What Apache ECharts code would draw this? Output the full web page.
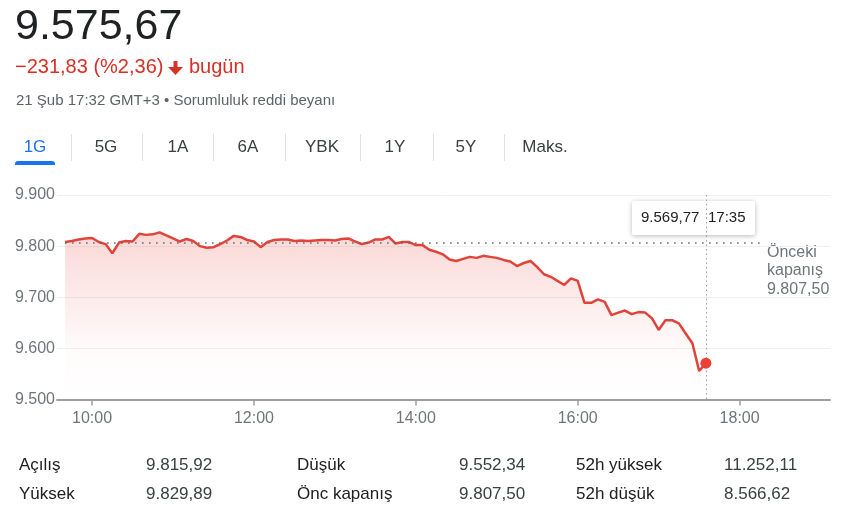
<!DOCTYPE html>
<html>
<head>
    <meta charset="utf-8" />
    <title>9.575,67 - 1G</title>
    <script src="https://cdn.jsdelivr.net/npm/echarts@6/dist/echarts.min.js"></script>
    <style>
        html, body { margin: 0; padding: 0; background: #ffffff; }
        #main { width: 855px; height: 521px; }
    </style>
</head>
<body>
<div id="main"></div>
<script type="text/javascript">
    // saat (5 dk aralık) ve endeks değerleri
    var times = [
        '09:40','09:45','09:50','09:55','10:00','10:05','10:10','10:15','10:20','10:25','10:30','10:35',
        '10:40','10:45','10:50','10:55','11:00','11:05','11:10','11:15','11:20','11:25','11:30','11:35',
        '11:40','11:45','11:50','11:55','12:00','12:05','12:10','12:15','12:20','12:25','12:30','12:35',
        '12:40','12:45','12:50','12:55','13:00','13:05','13:10','13:15','13:20','13:25','13:30','13:35',
        '13:40','13:45','13:50','13:55','14:00','14:05','14:10','14:15','14:20','14:25','14:30','14:35',
        '14:40','14:45','14:50','14:55','15:00','15:05','15:10','15:15','15:20','15:25','15:30','15:35',
        '15:40','15:45','15:50','15:55','16:00','16:05','16:10','16:15','16:20','16:25','16:30','16:35',
        '16:40','16:45','16:50','16:55','17:00','17:05','17:10','17:15','17:20','17:25','17:30','17:35'
    ];
    var values = [
        9808, 9810, 9813, 9815, 9816, 9808, 9804, 9786, 9807, 9810, 9809, 9824,
        9822, 9823, 9827, 9821, 9815, 9809, 9814, 9810, 9800, 9797, 9798, 9804,
        9811, 9820, 9818, 9812, 9809, 9798, 9808, 9812, 9813, 9813, 9810, 9811,
        9810, 9811, 9812, 9812, 9811, 9814, 9815, 9809, 9804, 9807, 9813, 9813,
        9818, 9805, 9808, 9808, 9802, 9802, 9793, 9789, 9784, 9774, 9771, 9775,
        9779, 9777, 9781, 9779, 9777, 9773, 9770, 9761, 9767, 9771, 9759, 9745,
        9740, 9732, 9724, 9737, 9732, 9689, 9689, 9696, 9691, 9665, 9670, 9674,
        9667, 9671, 9670, 9659, 9636, 9655, 9655, 9649, 9629, 9610, 9556, 9571
    ];
    var xTickLabels = ['10:00', '12:00', '14:00', '16:00', '18:00'];
    var prevClose = 9807.50;

    var tabs = ['1G', '5G', '1A', '6A', 'YBK', '1Y', '5Y', 'Maks.'];
    var statLabels = ['Açılış', 'Yüksek', 'Düşük', 'Önc kapanış', '52h yüksek', '52h düşük'];
    var statValues = ['9.815,92', '9.829,89', '9.552,34', '9.807,50', '11.252,11', '8.566,62'];

    // yardımcılar
    function toMin(s) {
        var p = s.split(':');
        return +p[0] * 60 + +p[1];
    }
    function toHHMM(m) {
        var h = Math.floor(m / 60), mm = Math.round(m % 60);
        return (h < 10 ? '0' : '') + h + ':' + (mm < 10 ? '0' : '') + mm;
    }
    function trNum(v) {
        return String(v).replace(/\B(?=(\d{3})+(?!\d))/g, '.');
    }

    var lineData = times.map(function (t, i) { return [toMin(t), values[i]]; });
    var lastIdx = times.length - 1;

    var font = 'Arial, "Liberation Sans", sans-serif';
    var graphics = [];

    // üst başlık
    graphics.push({ type: 'text', left: 15, top: 6, style: { text: '9.575,67', font: '43px ' + font, fill: '#202124' } });
    graphics.push({ type: 'text', left: 15, top: 57, style: { text: '\u2212231,83 (%2,36)', font: '20px ' + font, fill: '#d93025' } });
    // aşağı ok
    graphics.push({ type: 'rect', shape: { x: 173.5, y: 61, width: 4, height: 8 }, style: { fill: '#d93025' } });
    graphics.push({ type: 'polygon', shape: { points: [[168, 67], [183, 67], [175.5, 75]] }, style: { fill: '#d93025' } });
    graphics.push({ type: 'text', left: 189, top: 57, style: { text: 'bugün', font: '20px ' + font, fill: '#d93025' } });
    graphics.push({ type: 'text', left: 16, top: 93, style: { text: '21 Şub 17:32 GMT+3 \u2022 Sorumluluk reddi beyanı', font: '15px ' + font, fill: '#5f6368' } });

    // sekmeler
    var tabX = [35, 106, 178, 248, 322, 395, 466, 545];
    var sepX = [71, 142, 213, 285, 360, 433, 504];
    tabs.forEach(function (t, i) {
        graphics.push({
            type: 'text', x: tabX[i], y: 147,
            style: { text: t, font: '17px ' + font, fill: i === 0 ? '#1a73e8' : '#3c4043', align: 'center', verticalAlign: 'middle' }
        });
    });
    sepX.forEach(function (x) {
        graphics.push({ type: 'rect', shape: { x: x, y: 134, width: 1, height: 27 }, style: { fill: '#e0e0e0' } });
    });
    graphics.push({ type: 'rect', shape: { x: 15, y: 161, width: 40, height: 4, r: [3, 3, 0, 0] }, style: { fill: '#1a73e8' } });

    // önceki kapanış etiketi
    graphics.push({
        type: 'text', left: 767, top: 243,
        style: { text: 'Önceki\nkapanış\n' + '9.807,50', font: '16px ' + font, fill: '#70757a', lineHeight: 18.5 }
    });

    // bilgi kutusu
    graphics.push({
        type: 'rect', shape: { x: 632, y: 201, width: 123, height: 34, r: 2 },
        style: { fill: '#ffffff', shadowBlur: 5, shadowColor: 'rgba(0,0,0,0.28)', shadowOffsetY: 1 }
    });
    graphics.push({ type: 'text', x: 641, y: 218, style: { text: '9.569,77', font: '15px ' + font, fill: '#202124', verticalAlign: 'middle' } });
    graphics.push({ type: 'text', x: 708, y: 218, style: { text: times[lastIdx], font: '15px ' + font, fill: '#202124', verticalAlign: 'middle' } });

    // alt istatistikler
    var colLabelX = [19, 297, 576], colValueX = [146, 459, 724], rowY = [465, 494];
    statLabels.forEach(function (s, i) {
        var c = Math.floor(i / 2), r = i % 2;
        graphics.push({ type: 'text', x: colLabelX[c], y: rowY[r], style: { text: s, font: '17px ' + font, fill: '#202124', verticalAlign: 'middle' } });
        graphics.push({ type: 'text', x: colValueX[c], y: rowY[r], style: { text: statValues[i], font: '17px ' + font, fill: '#3c4043', verticalAlign: 'middle' } });
    });

    var myChart = echarts.init(document.getElementById('main'), null, { renderer: 'canvas' });
    var option = {
        animation: false,
        backgroundColor: '#ffffff',
        textStyle: { fontFamily: font },
        grid: { left: 57, right: 25, top: 195, bottom: 121.5, containLabel: false },
        xAxis: {
            type: 'value',
            min: 574,
            max: 1147,
            axisLine: { show: true, lineStyle: { color: '#9e9e9e', width: 2 } },
            axisTick: { show: true, length: 6, customValues: xTickLabels.map(toMin), lineStyle: { color: '#9e9e9e', width: 1.5 } },
            axisLabel: {
                customValues: xTickLabels.map(toMin),
                formatter: function (v) { return toHHMM(v); },
                color: '#70757a', fontSize: 16, margin: 11
            },
            splitLine: { show: false }
        },
        yAxis: {
            type: 'value',
            min: 9500,
            max: 9900,
            interval: 100,
            axisLine: { show: false },
            axisTick: { show: false },
            axisLabel: { formatter: function (v) { return trNum(v); }, color: '#70757a', fontSize: 16, margin: 2 },
            splitLine: { lineStyle: { color: '#efefef', width: 1 } }
        },
        graphic: graphics,
        series: [
            {
                type: 'line',
                data: lineData,
                symbol: 'none',
                lineStyle: { color: '#e0433a', width: 2.5 },
                areaStyle: {
                    color: new echarts.graphic.LinearGradient(0, 0, 0, 1, [
                        { offset: 0, color: 'rgba(230,70,60,0.30)' },
                        { offset: 0.7, color: 'rgba(230,70,60,0.03)' },
                        { offset: 1, color: 'rgba(230,70,60,0)' }
                    ])
                },
                markLine: {
                    silent: true,
                    symbol: ['none', 'none'],
                    label: { show: false },
                    data: [
                        [
                            { coord: [lineData[0][0], prevClose], lineStyle: { color: '#5f6368', type: [1.5, 5.5], width: 1.5 } },
                            { coord: [1096, prevClose] }
                        ],
                        [
                            { coord: [lineData[lastIdx][0], 9900], lineStyle: { color: '#9aa0a6', type: [1.5, 3], width: 1 } },
                            { coord: [lineData[lastIdx][0], 9500] }
                        ]
                    ]
                },
                markPoint: {
                    silent: true,
                    symbol: 'circle',
                    symbolSize: 11,
                    label: { show: false },
                    itemStyle: { color: '#ea4335' },
                    data: [{ coord: [lineData[lastIdx][0], values[lastIdx]] }]
                }
            }
        ]
    };
    myChart.setOption(option);
</script>
</body>
</html>
